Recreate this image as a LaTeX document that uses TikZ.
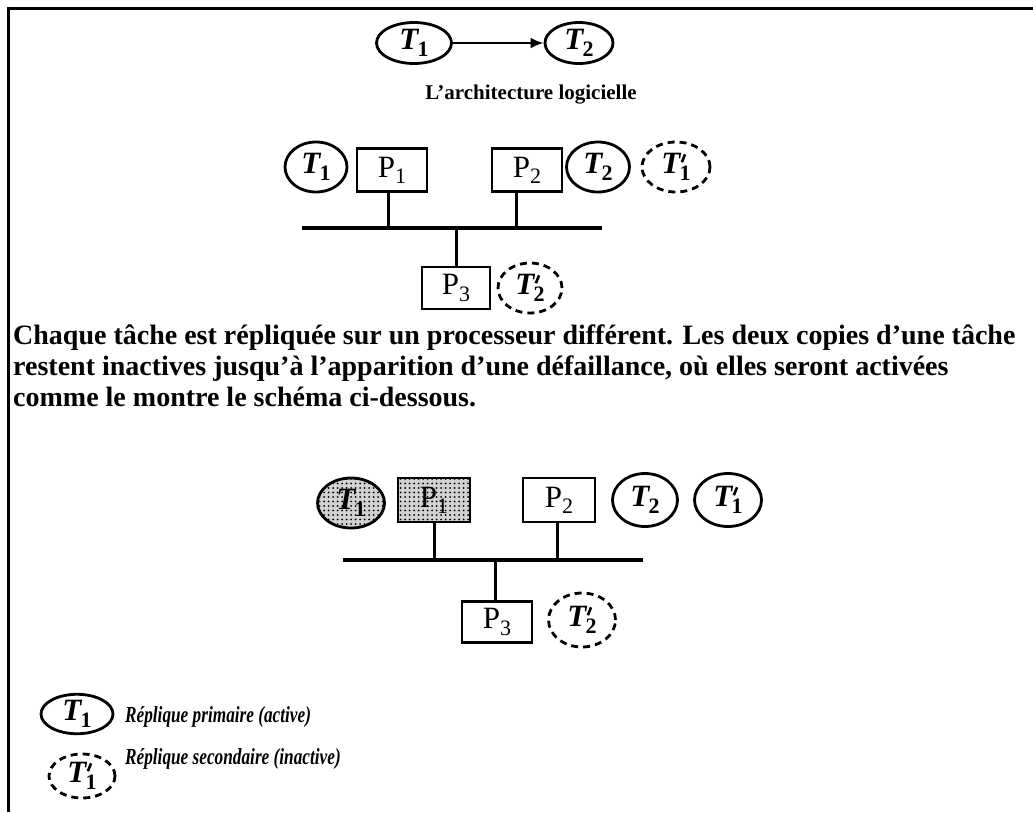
\documentclass[tikz,border=0pt]{standalone}
\usepackage{fontspec}
\setmainfont{Liberation Serif}
\usetikzlibrary{arrows.meta,patterns.meta,shapes.geometric}

% prime stroke for secondary replicas
\newcommand\primestroke{\rotatebox{-22}{\rule{2.6pt}{8.5pt}}}
% task label: bold italic T, optional prime, index (strut keeps the T centred)
\newcommand\tsk[2][]{{\fontsize{31}{31}\selectfont\rule[-0.24em]{0pt}{0.9em}\bfseries\itshape T\kern-0.02em\upshape
  \rlap{\raisebox{0.38em}{\kern1pt #1}}%
  \raisebox{-0.24em}{\fontsize{22}{22}\selectfont #2}}}
% processor label
\newcommand\prc[1]{{\fontsize{31}{31}\selectfont P\raisebox{-0.2em}{\fontsize{22}{22}\selectfont #1}}}

\tikzset{
  task/.style={ellipse, draw, line width=2.8pt, inner sep=0pt,
               minimum width=#1, minimum height=50pt},
  task/.default=64pt,
  spare/.style={task=#1, dash pattern=on 7pt off 5pt},
  spare/.default=66pt,
  proc/.style={rectangle, draw, line width=2.8pt, inner sep=0pt,
               minimum width=70pt, minimum height=43pt},
  failed/.style={fill=gray!35, postaction={pattern={Dots[distance=4.5pt, radius=1pt]}}},
  bus/.style={line width=3.5pt},
  stem/.style={line width=3pt},
  para/.style={anchor=base west, inner sep=0pt, font=\fontsize{28}{31}\selectfont\bfseries},
  legend/.style={anchor=base west, inner sep=0pt, xscale=0.75, font=\fontsize{23}{26}\selectfont\bfseries\itshape},
}

\begin{document}
\begin{tikzpicture}[x=1pt, y=-1pt]
\useasboundingbox (0,0) rectangle (1033,812);

% frame (top and left edges)
\draw[line width=3pt] (8,812) -- (8,8) -- (1033,8);

% task graph
\node[task=75pt, minimum height=41pt] (g1) at (414,43) {\tsk{1}};
\node[task=68pt, minimum height=41pt] (g2) at (579,43) {\tsk{2}};
\draw[line width=2.6pt, -{Latex[length=13pt, width=11pt]}] (g1) -- (g2);
\node[inner sep=0pt, font=\fontsize{21}{24}\selectfont\bfseries] (title) at (531,95) {L’architecture logicielle};

% architecture, initial placement
\node[task=62pt] (at1) at (316,167) {\tsk{1}};
\node[proc] (ap1) at (392,170) {\prc{1}};
\node[proc] (ap2) at (527,170) {\prc{2}};
\node[task=63pt] (at2) at (598,167) {\tsk{2}};
\node[spare=68pt] (at1s) at (676,167) {\tsk[\primestroke]{1}};
\node[proc, minimum width=68pt, minimum height=42pt] (ap3) at (456,288) {\prc{3}};
\node[spare=64pt] (at2s) at (530,288) {\tsk[\primestroke]{2}};
\coordinate (abusL) at (302,228);
\coordinate (abusR) at (602,228);
\draw[bus] (abusL) -- (abusR);
\draw[stem] ([xshift=-4pt]ap1.south) -- ([xshift=-4pt]ap1.south |- abusL);
\draw[stem] ([xshift=-11pt]ap2.south) -- ([xshift=-11pt]ap2.south |- abusL);
\draw[stem] (ap3.north) -- (ap3.north |- abusL);

% explanation
\node[para] (l1) at (13,344) {Chaque tâche est répliquée sur un processeur différent. Les deux copies d’une tâche};
\node[para] (l2) at (13,375) {restent inactives jusqu’à l’apparition d’une défaillance, où elles seront activées};
\node[para] (l3) at (13,406) {comme le montre le schéma ci-dessous.};

% architecture after failure of P1
\node[task=67pt, failed] (bt1) at (351,503) {\tsk{1}};
\node[proc, failed, minimum width=72pt, minimum height=44pt] (bp1) at (434,500) {\prc{1}};
\node[proc, minimum width=72pt, minimum height=44pt] (bp2) at (559,500) {\prc{2}};
\node[task=65pt, minimum height=53pt] (bt2) at (645,500) {\tsk{2}};
\node[task=67pt, minimum height=53pt] (bt1s) at (728,500) {\tsk[\primestroke]{1}};
\node[proc, minimum height=41pt] (bp3) at (497,622) {\prc{3}};
\node[spare=67pt, minimum height=54pt] (bt2s) at (582,620) {\tsk[\primestroke]{2}};
\coordinate (bbusL) at (343,560);
\coordinate (bbusR) at (643,560);
\draw[bus] (bbusL) -- (bbusR);
\draw[stem] (bp1.south) -- (bp1.south |- bbusL);
\draw[stem] ([xshift=-2pt]bp2.south) -- ([xshift=-2pt]bp2.south |- bbusL);
\draw[stem] ([xshift=-2pt]bp3.north) -- ([xshift=-2pt]bp3.north |- bbusL);

% legend
\node[task=72pt, minimum height=37pt] (lt1) at (77,714) {\tsk{1}};
\node[legend] (lx1) at (125,722) {Réplique primaire (active)};
\node[spare=66pt, minimum height=44pt] (lt1s) at (82,776) {\tsk[\primestroke]{1}};
\node[legend] (lx2) at (125,764) {Réplique secondaire (inactive)};
\end{tikzpicture}
\end{document}
